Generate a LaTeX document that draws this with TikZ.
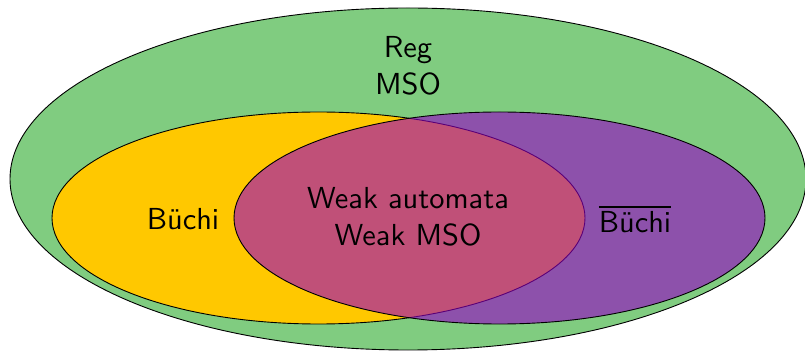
\documentclass[tikz,border=0pt]{standalone}
\usepackage{fontspec}
\usepackage{tikz}

\begin{document}
\begin{tikzpicture}[x=1pt,y=-1pt,font=\sffamily,lbl/.style={scale=3.04,transform shape,align=center}]
\definecolor{reg}{HTML}{80CC80}
\definecolor{buchi}{HTML}{FFC800}
\definecolor{cobuchi}{HTML}{9600C8}
\useasboundingbox (0,0) rectangle (805,352);
\draw[fill=reg,line width=0.9pt] (408,179) ellipse [x radius=398pt,y radius=171pt];
\draw[fill=buchi,line width=0.9pt] (318.5,218) ellipse [x radius=266.5pt,y radius=106pt];
\draw[fill=cobuchi,fill opacity=0.6,line width=0.9pt] (499.5,218) ellipse [x radius=265.5pt,y radius=106pt];
\node[lbl] (reg) at (408,66) {Reg\\MSO};
\node[lbl] (buchi) at (183,219) {Büchi};
\node[lbl] (cobuchi) at (635,219) {$\overline{\mbox{Büchi}}$};
\node[lbl] (weak) at (408,217) {Weak automata\\Weak MSO};
\end{tikzpicture}
\end{document}
